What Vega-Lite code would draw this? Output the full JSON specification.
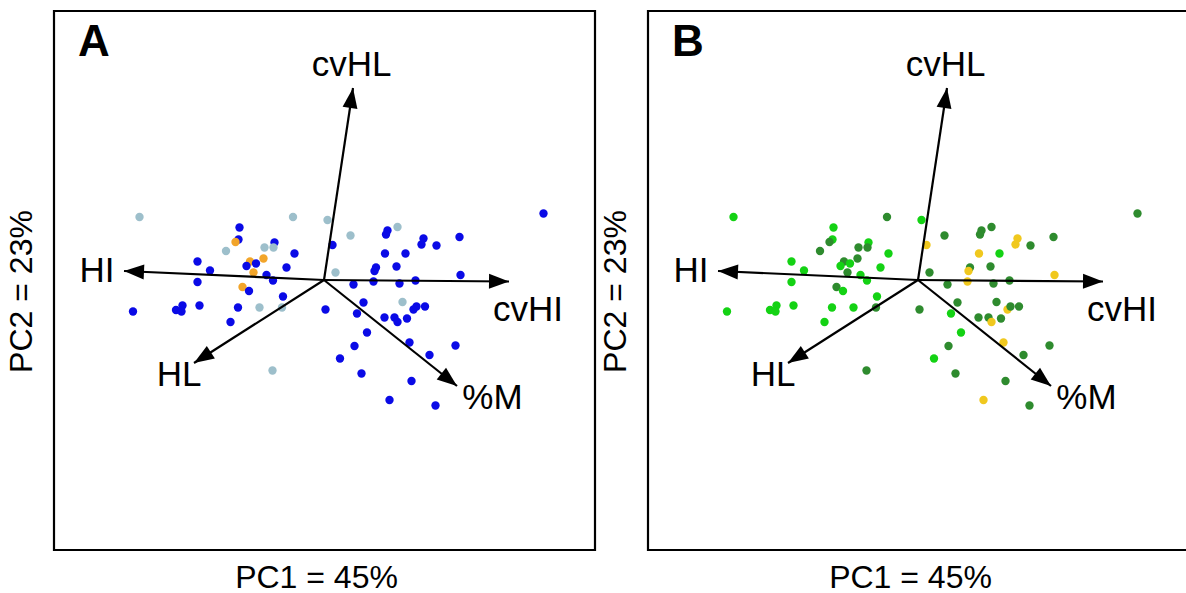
{
  "$schema": "https://vega.github.io/schema/vega-lite/v6.json",
  "background": "white",
  "padding": {"left": 3, "top": 9, "right": 0, "bottom": 0},
  "spacing": 53,
  "bounds": "flush",
  "config": {
    "font": "Liberation Sans",
    "view": {"stroke": "black", "strokeWidth": 2.2},
    "axis": {"ticks": false, "labels": false, "domain": false, "grid": false, "titleFontSize": 32, "titleFontWeight": "normal", "titleColor": "black", "titleFont": "Liberation Sans"},
    "axisX": {"titlePadding": 12, "titleX": 262},
    "axisY": {"titlePadding": 16, "titleY": 280}
  },
  "resolve": {"scale": {"color": "independent"}},
  "datasets": {
    "scores": [
      {"pc1": -3.69, "pc2": 1.26, "a": "a2", "b": "b1"},
      {"pc1": -0.62, "pc2": 1.26, "a": "a2", "b": "b2"},
      {"pc1": 0.07, "pc2": 1.20, "a": "a2", "b": "b1"},
      {"pc1": 0.53, "pc2": 0.89, "a": "a2", "b": "b2"},
      {"pc1": -1.69, "pc2": 1.05, "a": "a1", "b": "b1"},
      {"pc1": -1.71, "pc2": 0.81, "a": "a1", "b": "b1"},
      {"pc1": -1.77, "pc2": 0.76, "a": "a3", "b": "b2"},
      {"pc1": -1.96, "pc2": 0.58, "a": "a2", "b": "b2"},
      {"pc1": -1.19, "pc2": 0.65, "a": "a2", "b": "b2"},
      {"pc1": -0.99, "pc2": 0.75, "a": "a1", "b": "b1"},
      {"pc1": -1.01, "pc2": 0.65, "a": "a2", "b": "b2"},
      {"pc1": -0.59, "pc2": 0.53, "a": "a1", "b": "b1"},
      {"pc1": 0.17, "pc2": 0.70, "a": "a1", "b": "b3"},
      {"pc1": -2.53, "pc2": 0.37, "a": "a1", "b": "b1"},
      {"pc1": -2.28, "pc2": 0.19, "a": "a1", "b": "b1"},
      {"pc1": -1.48, "pc2": 0.37, "a": "a3", "b": "b2"},
      {"pc1": -1.21, "pc2": 0.43, "a": "a3", "b": "b2"},
      {"pc1": -1.55, "pc2": 0.28, "a": "a1", "b": "b1"},
      {"pc1": -1.36, "pc2": 0.33, "a": "a1", "b": "b1"},
      {"pc1": -1.41, "pc2": 0.15, "a": "a3", "b": "b2"},
      {"pc1": -1.15, "pc2": 0.10, "a": "a1", "b": "b1"},
      {"pc1": -1.02, "pc2": -0.01, "a": "a1", "b": "b1"},
      {"pc1": -0.75, "pc2": 0.25, "a": "a1", "b": "b1"},
      {"pc1": 0.23, "pc2": 0.15, "a": "a2", "b": "b2"},
      {"pc1": -2.53, "pc2": -0.04, "a": "a1", "b": "b1"},
      {"pc1": -1.63, "pc2": -0.14, "a": "a3", "b": "b2"},
      {"pc1": -1.50, "pc2": -0.22, "a": "a1", "b": "b1"},
      {"pc1": -0.82, "pc2": -0.33, "a": "a1", "b": "b1"},
      {"pc1": -3.82, "pc2": -0.63, "a": "a1", "b": "b1"},
      {"pc1": -2.96, "pc2": -0.60, "a": "a1", "b": "b1"},
      {"pc1": -2.83, "pc2": -0.51, "a": "a1", "b": "b1"},
      {"pc1": -2.85, "pc2": -0.63, "a": "a1", "b": "b1"},
      {"pc1": -2.49, "pc2": -0.51, "a": "a1", "b": "b1"},
      {"pc1": -1.72, "pc2": -0.55, "a": "a1", "b": "b1"},
      {"pc1": -1.29, "pc2": -0.55, "a": "a2", "b": "b1"},
      {"pc1": -0.84, "pc2": -0.55, "a": "a2", "b": "b2"},
      {"pc1": -1.87, "pc2": -0.84, "a": "a1", "b": "b1"},
      {"pc1": 0.03, "pc2": -0.59, "a": "a1", "b": "b2"},
      {"pc1": -1.03, "pc2": -1.81, "a": "a2", "b": "b2"},
      {"pc1": 0.59, "pc2": -0.09, "a": "a1", "b": "b2"},
      {"pc1": 0.66, "pc2": -0.67, "a": "a1", "b": "b1"},
      {"pc1": 0.61, "pc2": -1.32, "a": "a1", "b": "b2"},
      {"pc1": 0.32, "pc2": -1.57, "a": "a1", "b": "b1"},
      {"pc1": 0.75, "pc2": -1.87, "a": "a1", "b": "b2"},
      {"pc1": 4.39, "pc2": 1.33, "a": "a1", "b": "b2"},
      {"pc1": 1.47, "pc2": 1.06, "a": "a2", "b": "b2"},
      {"pc1": 1.27, "pc2": 0.99, "a": "a1", "b": "b2"},
      {"pc1": 1.24, "pc2": 0.91, "a": "a1", "b": "b2"},
      {"pc1": 1.99, "pc2": 0.83, "a": "a1", "b": "b3"},
      {"pc1": 1.95, "pc2": 0.71, "a": "a1", "b": "b3"},
      {"pc1": 2.25, "pc2": 0.69, "a": "a1", "b": "b2"},
      {"pc1": 2.71, "pc2": 0.86, "a": "a1", "b": "b2"},
      {"pc1": 1.22, "pc2": 0.53, "a": "a1", "b": "b3"},
      {"pc1": 1.63, "pc2": 0.53, "a": "a1", "b": "b1"},
      {"pc1": 1.04, "pc2": 0.25, "a": "a1", "b": "b2"},
      {"pc1": 1.01, "pc2": 0.18, "a": "a1", "b": "b3"},
      {"pc1": 1.45, "pc2": 0.27, "a": "a1", "b": "b2"},
      {"pc1": 2.73, "pc2": 0.10, "a": "a1", "b": "b3"},
      {"pc1": 0.99, "pc2": -0.03, "a": "a1", "b": "b3"},
      {"pc1": 1.51, "pc2": -0.07, "a": "a1", "b": "b2"},
      {"pc1": 1.83, "pc2": -0.01, "a": "a1", "b": "b2"},
      {"pc1": 0.79, "pc2": -0.45, "a": "a1", "b": "b2"},
      {"pc1": 1.57, "pc2": -0.44, "a": "a2", "b": "b2"},
      {"pc1": 1.79, "pc2": -0.59, "a": "a1", "b": "b3"},
      {"pc1": 1.85, "pc2": -0.53, "a": "a1", "b": "b2"},
      {"pc1": 2.02, "pc2": -0.53, "a": "a1", "b": "b2"},
      {"pc1": 1.21, "pc2": -0.75, "a": "a1", "b": "b2"},
      {"pc1": 1.41, "pc2": -0.75, "a": "a1", "b": "b2"},
      {"pc1": 1.47, "pc2": -0.84, "a": "a1", "b": "b3"},
      {"pc1": 1.66, "pc2": -0.77, "a": "a1", "b": "b2"},
      {"pc1": 0.86, "pc2": -1.05, "a": "a1", "b": "b1"},
      {"pc1": 1.71, "pc2": -1.25, "a": "a1", "b": "b3"},
      {"pc1": 2.63, "pc2": -1.31, "a": "a1", "b": "b2"},
      {"pc1": 2.11, "pc2": -1.50, "a": "a1", "b": "b2"},
      {"pc1": 1.75, "pc2": -2.02, "a": "a1", "b": "b2"},
      {"pc1": 1.31, "pc2": -2.40, "a": "a1", "b": "b3"},
      {"pc1": 2.23, "pc2": -2.51, "a": "a1", "b": "b2"}
    ],
    "loadings": [
      {"var": "HI", "pc1": -4.0, "pc2": 0.18, "lx": -4.54, "ly": 0.18},
      {"var": "cvHL", "pc1": 0.58, "pc2": 3.84, "lx": 0.55, "ly": 4.31},
      {"var": "cvHI", "pc1": 3.7, "pc2": -0.03, "lx": 4.08, "ly": -0.6},
      {"var": "%M", "pc1": 2.66, "pc2": -2.12, "lx": 3.37, "ly": -2.36},
      {"var": "HL", "pc1": -2.6, "pc2": -1.66, "lx": -2.9, "ly": -1.89}
    ],
    "panelA": [{"panel": "A", "px": -4.92, "py": 4.48}],
    "panelB": [{"panel": "B", "px": -4.92, "py": 4.48}]
  },
  "hconcat": [
    {
      "width": 541, "height": 539,
      "layer": [
        {
          "data": {"name": "scores"},
          "mark": {"type": "point", "filled": true, "size": 70, "opacity": 1},
          "encoding": {
            "x": {"field": "pc1", "type": "quantitative", "scale": {"domain": [-5.4, 5.42], "nice": false, "zero": false}, "title": "PC1 = 45%"},
            "y": {"field": "pc2", "type": "quantitative", "scale": {"domain": [-5.4, 5.38], "nice": false, "zero": false}, "title": "PC2 = 23%"},
            "color": {"field": "a", "type": "nominal", "scale": {"domain": ["a1", "a2", "a3"], "range": ["#0A0AE6", "#9DBFCB", "#F2A52A"]}, "legend": null}
          }
        },
        {
          "data": {"name": "loadings"},
          "mark": {"type": "rule", "strokeWidth": 2.2, "color": "black"},
          "encoding": {
            "x": {"field": "pc1", "type": "quantitative", "scale": {"domain": [-5.4, 5.42], "nice": false, "zero": false}, "title": "PC1 = 45%"},
            "y": {"field": "pc2", "type": "quantitative", "scale": {"domain": [-5.4, 5.38], "nice": false, "zero": false}, "title": "PC2 = 23%"},
            "x2": {"datum": 0},
            "y2": {"datum": 0}
          }
        },
        {
          "data": {"name": "loadings"},
          "transform": [{"calculate": "atan2(-datum.pc2, datum.pc1) * 180 / PI", "as": "ang"}],
          "mark": {"type": "point", "shape": "M0,0L-2,-0.75L-2,0.75Z", "filled": true, "size": 400, "color": "black", "opacity": 1},
          "encoding": {
            "x": {"field": "pc1", "type": "quantitative", "scale": {"domain": [-5.4, 5.42], "nice": false, "zero": false}, "title": "PC1 = 45%"},
            "y": {"field": "pc2", "type": "quantitative", "scale": {"domain": [-5.4, 5.38], "nice": false, "zero": false}, "title": "PC2 = 23%"},
            "angle": {"field": "ang", "type": "quantitative", "scale": null}
          }
        },
        {
          "data": {"name": "loadings"},
          "mark": {"type": "text", "fontSize": 35, "font": "Liberation Sans", "align": "center", "baseline": "middle", "color": "black"},
          "encoding": {
            "x": {"field": "lx", "type": "quantitative", "scale": {"domain": [-5.4, 5.42], "nice": false, "zero": false}, "title": "PC1 = 45%"},
            "y": {"field": "ly", "type": "quantitative", "scale": {"domain": [-5.4, 5.38], "nice": false, "zero": false}, "title": "PC2 = 23%"},
            "text": {"field": "var"}
          }
        },
        {
          "data": {"name": "panelA"},
          "mark": {"type": "text", "fontSize": 44, "fontWeight": "bold", "font": "Liberation Sans", "align": "left", "baseline": "alphabetic", "color": "black"},
          "encoding": {
            "x": {"field": "px", "type": "quantitative", "scale": {"domain": [-5.4, 5.42], "nice": false, "zero": false}, "title": "PC1 = 45%"},
            "y": {"field": "py", "type": "quantitative", "scale": {"domain": [-5.4, 5.38], "nice": false, "zero": false}, "title": "PC2 = 23%"},
            "text": {"field": "panel"}
          }
        }
      ]
    },
    {
      "width": 541, "height": 539,
      "layer": [
        {
          "data": {"name": "scores"},
          "mark": {"type": "point", "filled": true, "size": 70, "opacity": 1},
          "encoding": {
            "x": {"field": "pc1", "type": "quantitative", "scale": {"domain": [-5.4, 5.42], "nice": false, "zero": false}, "title": "PC1 = 45%"},
            "y": {"field": "pc2", "type": "quantitative", "scale": {"domain": [-5.4, 5.38], "nice": false, "zero": false}, "title": "PC2 = 23%"},
            "color": {"field": "b", "type": "nominal", "scale": {"domain": ["b1", "b2", "b3"], "range": ["#14D214", "#2E8B2E", "#F0C81E"]}, "legend": null}
          }
        },
        {
          "data": {"name": "loadings"},
          "mark": {"type": "rule", "strokeWidth": 2.2, "color": "black"},
          "encoding": {
            "x": {"field": "pc1", "type": "quantitative", "scale": {"domain": [-5.4, 5.42], "nice": false, "zero": false}, "title": "PC1 = 45%"},
            "y": {"field": "pc2", "type": "quantitative", "scale": {"domain": [-5.4, 5.38], "nice": false, "zero": false}, "title": "PC2 = 23%"},
            "x2": {"datum": 0},
            "y2": {"datum": 0}
          }
        },
        {
          "data": {"name": "loadings"},
          "transform": [{"calculate": "atan2(-datum.pc2, datum.pc1) * 180 / PI", "as": "ang"}],
          "mark": {"type": "point", "shape": "M0,0L-2,-0.75L-2,0.75Z", "filled": true, "size": 400, "color": "black", "opacity": 1},
          "encoding": {
            "x": {"field": "pc1", "type": "quantitative", "scale": {"domain": [-5.4, 5.42], "nice": false, "zero": false}, "title": "PC1 = 45%"},
            "y": {"field": "pc2", "type": "quantitative", "scale": {"domain": [-5.4, 5.38], "nice": false, "zero": false}, "title": "PC2 = 23%"},
            "angle": {"field": "ang", "type": "quantitative", "scale": null}
          }
        },
        {
          "data": {"name": "loadings"},
          "mark": {"type": "text", "fontSize": 35, "font": "Liberation Sans", "align": "center", "baseline": "middle", "color": "black"},
          "encoding": {
            "x": {"field": "lx", "type": "quantitative", "scale": {"domain": [-5.4, 5.42], "nice": false, "zero": false}, "title": "PC1 = 45%"},
            "y": {"field": "ly", "type": "quantitative", "scale": {"domain": [-5.4, 5.38], "nice": false, "zero": false}, "title": "PC2 = 23%"},
            "text": {"field": "var"}
          }
        },
        {
          "data": {"name": "panelB"},
          "mark": {"type": "text", "fontSize": 44, "fontWeight": "bold", "font": "Liberation Sans", "align": "left", "baseline": "alphabetic", "color": "black"},
          "encoding": {
            "x": {"field": "px", "type": "quantitative", "scale": {"domain": [-5.4, 5.42], "nice": false, "zero": false}, "title": "PC1 = 45%"},
            "y": {"field": "py", "type": "quantitative", "scale": {"domain": [-5.4, 5.38], "nice": false, "zero": false}, "title": "PC2 = 23%"},
            "text": {"field": "panel"}
          }
        }
      ]
    }
  ]
}
